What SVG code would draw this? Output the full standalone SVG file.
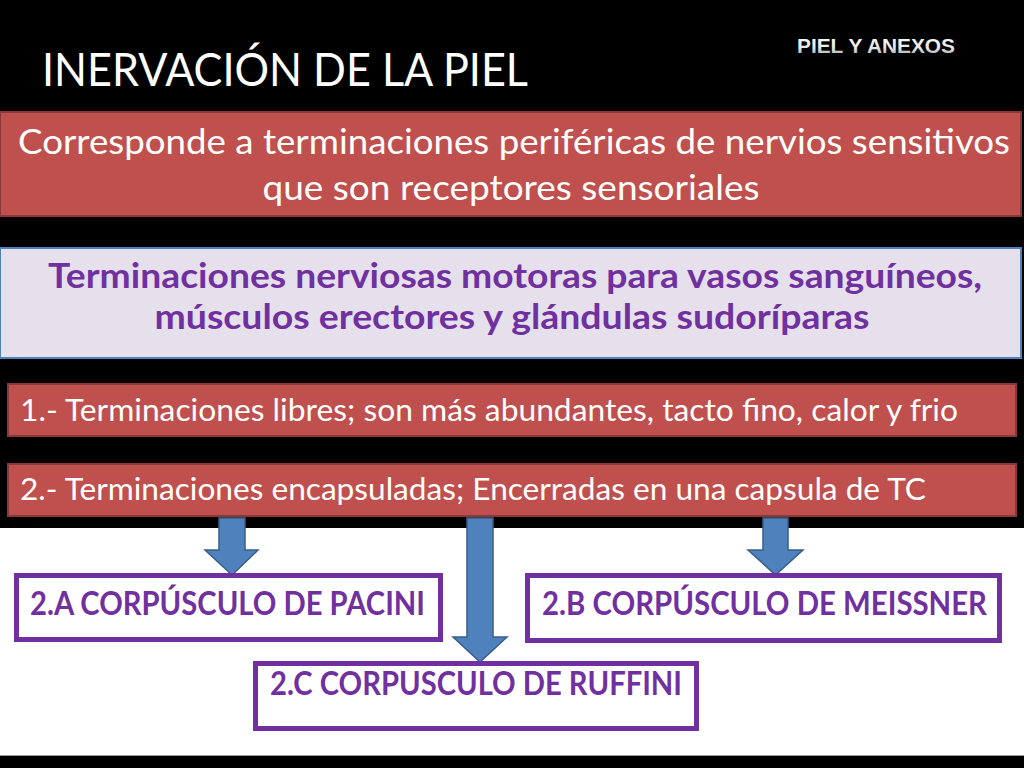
<svg xmlns="http://www.w3.org/2000/svg" width="1024" height="768" viewBox="0 0 1024 768">
<style>
.red{fill:#C0504D;stroke:#8C3836;stroke-width:2}
.lav{fill:#E6E0EC;stroke:#4F81BD;stroke-width:2}
.pur{fill:#FFFFFF;stroke:#7030A0;stroke-width:5}
.arr{fill:#4F81BD;stroke:#385D8A;stroke-width:1.5}
.wt{font-family:Lato,"Open Sans","Liberation Sans",sans-serif;fill:#FFFFFF}
.pt{font-family:Lato,"Open Sans","Liberation Sans",sans-serif;fill:#7030A0;font-weight:bold}
.lab{font-family:Lato,"Liberation Sans",sans-serif;fill:#7030A0;font-weight:bold;font-size:33px}
</style>
<defs>
<linearGradient id="sub" x1="0" y1="0" x2="0" y2="1">
<stop offset="0" stop-color="#FFFFFF"/>
<stop offset="0.6" stop-color="#E8E8E8"/>
<stop offset="1" stop-color="#9A9A9A"/>
</linearGradient>
</defs>
<rect x="0" y="0" width="1024" height="768" fill="#000000"/>
<rect x="0" y="528" width="1024" height="227" fill="#FFFFFF"/>
<line x1="0" y1="755.5" x2="1024" y2="755.5" stroke="#9A9A9A" stroke-width="1"/>

<g id="title">
<text x="42" y="86" class="wt" font-size="46" textLength="486" lengthAdjust="spacingAndGlyphs">INERVACIÓN DE LA PIEL</text>
</g>
<g id="subtitle">
<text x="797" y="53" font-family="'Liberation Sans',Arial,sans-serif" font-size="21" font-weight="bold" fill="url(#sub)" textLength="158" lengthAdjust="spacingAndGlyphs">PIEL Y ANEXOS</text>
</g>

<g id="box-definicion">
<rect class="red" x="0" y="112" width="1021" height="104"/>
<text x="514" y="154" class="wt" font-size="34" text-anchor="middle" textLength="992" lengthAdjust="spacingAndGlyphs">Corresponde a terminaciones periféricas de nervios sensitivos</text>
<text x="511" y="200" class="wt" font-size="34" text-anchor="middle" textLength="497" lengthAdjust="spacingAndGlyphs">que son receptores sensoriales</text>
</g>

<g id="box-motoras">
<rect class="lav" x="0" y="248" width="1021" height="110"/>
<text x="515" y="288" class="pt" font-size="34" text-anchor="middle" textLength="934" lengthAdjust="spacingAndGlyphs">Terminaciones nerviosas motoras para vasos sanguíneos,</text>
<text x="512" y="329" class="pt" font-size="34" text-anchor="middle" textLength="715" lengthAdjust="spacingAndGlyphs">músculos erectores y glándulas sudoríparas</text>
</g>

<g id="box-libres">
<rect class="red" x="8" y="384" width="1008" height="52"/>
<text x="20" y="421" class="wt" font-size="31" textLength="938" lengthAdjust="spacingAndGlyphs">1.- Terminaciones libres; son más abundantes, tacto fino, calor y frio</text>
</g>

<g id="box-encapsuladas">
<rect class="red" x="8" y="464" width="1008" height="52"/>
<text x="20" y="500" class="wt" font-size="31" textLength="906" lengthAdjust="spacingAndGlyphs">2.- Terminaciones encapsuladas; Encerradas en una capsula de TC</text>
</g>

<g id="connectors">
<path class="arr" d="M219,518 H245 V550 H258 L232,575 L205,550 H219 Z"/>
<path class="arr" d="M467,518 H493 V637 H507 L480,662 L453,637 H467 Z"/>
<path class="arr" d="M763,518 H788 V550 H803 L775.5,575 L748,550 H763 Z"/>
</g>

<g id="node-pacini">
<rect class="pur" x="16.5" y="575.5" width="424" height="64"/>
<text x="30" y="615" class="lab" textLength="395" lengthAdjust="spacingAndGlyphs">2.A CORPÚSCULO DE PACINI</text>
</g>

<g id="node-meissner">
<rect class="pur" x="527.5" y="575.5" width="472" height="65"/>
<text x="542" y="615" class="lab" textLength="445" lengthAdjust="spacingAndGlyphs">2.B CORPÚSCULO DE MEISSNER</text>
</g>

<g id="node-ruffini">
<rect class="pur" x="255.5" y="663.5" width="441" height="65"/>
<text x="270" y="695" class="lab" textLength="412" lengthAdjust="spacingAndGlyphs">2.C CORPUSCULO DE RUFFINI</text>
</g>
</svg>
